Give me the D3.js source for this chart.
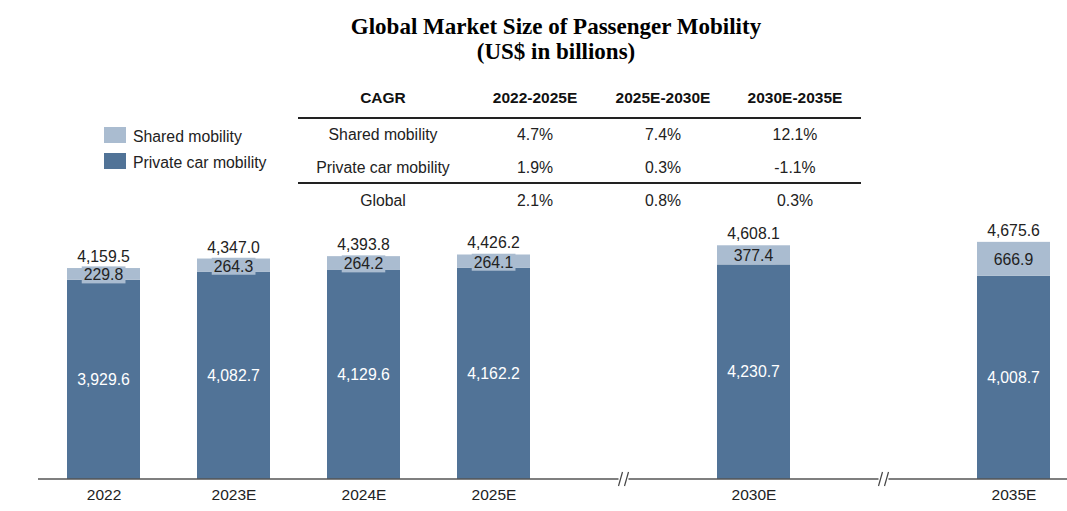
<!DOCTYPE html>
<html>
<head>
<meta charset="utf-8">
<script src="https://cdn.jsdelivr.net/npm/d3@7"></script>
<style>
  body { margin: 0; background: #fff; }
  text { font-family: "Liberation Sans", Arial, sans-serif; }
</style>
</head>
<body>
<div id="chart"></div>
<script>
// Data
const years = ["2022", "2023E", "2024E", "2025E", "2030E", "2035E"];
const shared = [229.8, 264.3, 264.2, 264.1, 377.4, 666.9];
const privateCar = [3929.6, 4082.7, 4129.6, 4162.2, 4230.7, 4008.7];
const totals = [4159.5, 4347.0, 4393.8, 4426.2, 4608.1, 4675.6];

// slots on the axis, the gaps are where the axis breaks
const slots = ["2022", "2023E", "2024E", "2025E", "gap1", "2030E", "gap2", "2035E"];

const cagrHeader = ["CAGR", "2022-2025E", "2025E-2030E", "2030E-2035E"];
const cagrRows = [
  ["Shared mobility", "4.7%", "7.4%", "12.1%"],
  ["Private car mobility", "1.9%", "0.3%", "-1.1%"],
  ["Global", "2.1%", "0.8%", "0.3%"]
];

const legendItems = ["Shared mobility", "Private car mobility"];

// Chart setup
const width = 1067;
const height = 511;
const darkColor = "#517397";
const lightColor = "#aabcd0";
const fs = "15.8px";

const svg = d3.select("#chart")
  .append("svg")
  .attr("width", width)
  .attr("height", height);

const x = d3.scalePoint()
  .domain(slots)
  .range([103.5, 1013.5]);

const y = d3.scaleLinear()
  .domain([0, 5000])
  .range([479, 225.4]);

const barW = 73;
const fmt = d3.format(",.1f");

// Title
svg.append("text")
  .attr("x", 556).attr("y", 34)
  .attr("text-anchor", "middle")
  .style("font-family", "'Liberation Serif', 'Times New Roman', serif")
  .style("font-weight", "bold")
  .style("font-size", "23px")
  .text("Global Market Size of Passenger Mobility");

svg.append("text")
  .attr("x", 556).attr("y", 59)
  .attr("text-anchor", "middle")
  .style("font-family", "'Liberation Serif', 'Times New Roman', serif")
  .style("font-weight", "bold")
  .style("font-size", "23px")
  .text("(US$ in billions)");

// CAGR table
const colX = [383, 535, 663, 795];
const rowY = [103, 140, 173, 206];

const table = svg.append("g").attr("class", "cagr");

table.selectAll(".head")
  .data(cagrHeader)
  .enter().append("text")
  .attr("x", (d, i) => colX[i])
  .attr("y", rowY[0])
  .attr("text-anchor", "middle")
  .style("font-weight", "bold")
  .style("font-size", "15.5px")
  .attr("fill", "#111")
  .text(d => d);

cagrRows.forEach((row, r) => {
  table.selectAll(".row" + r)
    .data(row)
    .enter().append("text")
    .attr("x", (d, i) => colX[i])
    .attr("y", rowY[r + 1])
    .attr("text-anchor", "middle")
    .style("font-size", fs)
    .attr("fill", "#222")
    .text(d => d);
});

[118, 183].forEach(ly => {
  table.append("line")
    .attr("x1", 298).attr("x2", 861)
    .attr("y1", ly).attr("y2", ly)
    .attr("stroke", "#222")
    .attr("stroke-width", 2);
});

// Legend
const legend = svg.append("g").attr("class", "legend");
legend.selectAll("rect")
  .data(legendItems)
  .enter().append("rect")
  .attr("x", 104)
  .attr("y", (d, i) => 127 + i * 26)
  .attr("width", 22)
  .attr("height", 16)
  .attr("fill", (d, i) => i === 0 ? lightColor : darkColor);

legend.selectAll("text")
  .data(legendItems)
  .enter().append("text")
  .attr("x", 133)
  .attr("y", (d, i) => 142 + i * 26)
  .style("font-size", fs)
  .attr("fill", "#222")
  .text(d => d);

// Bars
const bars = svg.append("g").attr("class", "bars");

years.forEach((yr, i) => {
  const cx = x(yr);
  const privTop = y(privateCar[i]);
  const totTop = y(privateCar[i] + shared[i]);

  bars.append("rect")
    .attr("x", cx - barW / 2).attr("width", barW)
    .attr("y", privTop).attr("height", y(0) - privTop)
    .attr("fill", darkColor);

  bars.append("rect")
    .attr("x", cx - barW / 2).attr("width", barW)
    .attr("y", totTop).attr("height", privTop - totTop)
    .attr("fill", lightColor);

  // private car value
  bars.append("text")
    .attr("x", cx).attr("y", (privTop + y(0)) / 2)
    .attr("dy", "0.35em")
    .attr("text-anchor", "middle")
    .style("font-size", fs)
    .attr("fill", "#fff")
    .text(fmt(privateCar[i]));

  // shared value, with a small box behind it
  const midY = (totTop + privTop) / 2 + 1;
  const lbl = bars.append("text")
    .attr("x", cx).attr("y", midY)
    .attr("dy", "0.35em")
    .attr("text-anchor", "middle")
    .style("font-size", fs)
    .attr("fill", "#222")
    .text(fmt(shared[i]));
  const bb = lbl.node().getBBox();
  bars.insert("rect", () => lbl.node())
    .attr("x", bb.x - 2).attr("y", bb.y)
    .attr("width", bb.width + 4).attr("height", bb.height)
    .attr("fill", lightColor);

  // total on top
  bars.append("text")
    .attr("x", cx).attr("y", totTop - 6)
    .attr("text-anchor", "middle")
    .style("font-size", fs)
    .attr("fill", "#222")
    .text(fmt(totals[i]));
});

// Axis
const axis = svg.append("g")
  .attr("transform", `translate(0,${y(0)})`)
  .call(d3.axisBottom(x).tickSize(0).tickPadding(10)
    .tickFormat(d => d.startsWith("gap") ? "" : d));
axis.select(".domain").remove();
axis.selectAll("text")
  .style("font-size", "15.5px")
  .style("font-family", "'Liberation Sans', Arial, sans-serif")
  .attr("fill", "#222");

svg.append("line")
  .attr("x1", 38).attr("x2", width)
  .attr("y1", y(0)).attr("y2", y(0))
  .attr("stroke", "#555")
  .attr("stroke-width", 1.5);

// Break marks
["gap1", "gap2"].forEach(g => {
  const bx = x(g);
  svg.append("rect")
    .attr("x", bx - 5).attr("y", y(0) - 2)
    .attr("width", 10).attr("height", 4)
    .attr("fill", "#fff");
  [-3, 3].forEach(off => {
    svg.append("line")
      .attr("x1", bx + off - 2).attr("x2", bx + off + 2)
      .attr("y1", y(0) + 7).attr("y2", y(0) - 7)
      .attr("stroke", "#444")
      .attr("stroke-width", 1.2);
  });
});
</script>
</body>
</html>
